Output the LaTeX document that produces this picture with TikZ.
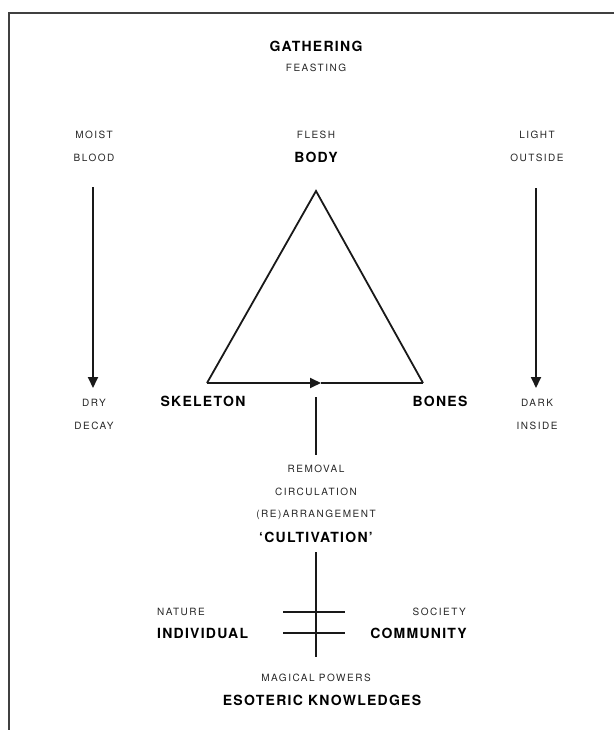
\documentclass[tikz,border=0pt]{standalone}
\usepackage{fontspec}
\setmainfont{TeX Gyre Heros}
\newfontfamily\smallfam[LetterSpace=15]{TeX Gyre Heros}
\newfontfamily\bigfam[LetterSpace=9]{TeX Gyre Heros}
\usetikzlibrary{arrows.meta}
\tikzset{
  small/.style={inner sep=0pt, font=\smallfam\fontsize{10}{12}\selectfont, text=black!85},
  big/.style={inner sep=0pt, font=\bigfam\bfseries\fontsize{14}{16}\selectfont},
  conn/.style={line width=1.8pt, black!90},
  arr/.style={conn, -{Triangle[width=10pt,length=11pt]}},
  frame/.style={line width=2.6pt, black!75},
}
\begin{document}
\begin{tikzpicture}[x=1pt,y=-1pt]
\useasboundingbox (0,0) rectangle (614,730);
% frame
\coordinate (fTR) at (614,13);
\coordinate (fTL) at (9,13);
\coordinate (fBL) at (9,730);
\draw[frame] (fTR) -- (fTL) -- (fBL);

% top
\node[big]   (gathering) at (316,46) {GATHERING};
\node[small] (feasting)  at (316,68) {FEASTING};

% left column
\node[small] (moist) at (94,135) {MOIST};
\node[small] (blood) at (94,158) {BLOOD};
\coordinate (la1) at (93,187);
\coordinate (la2) at (93,388);
\draw[arr] (la1) -- (la2);
\node[small] (dry)   at (94,403) {DRY};
\node[small] (decay) at (94,426) {DECAY};

% right column
\node[small] (light)   at (537,135) {LIGHT};
\node[small] (outside) at (537,158) {OUTSIDE};
\coordinate (ra1) at (536,188);
\coordinate (ra2) at (536,388);
\draw[arr] (ra1) -- (ra2);
\node[small] (dark)   at (537,403) {DARK};
\node[small] (inside) at (537,426) {INSIDE};

% triangle
\node[small] (flesh) at (316,135) {FLESH};
\node[big]   (body)  at (316,157) {BODY};
\coordinate (apex) at (316,191);
\coordinate (bl) at (207,383);
\coordinate (br) at (423,383);
\coordinate (bm) at (321,383);
\draw[conn, line join=miter] (bl) -- (apex) -- (br);
\draw[arr] (bl) -- (bm);
\draw[conn] (bm) -- (br);
\node[big] (skeleton) at (203,401) {SKELETON};
\node[big] (bones)    at (440,401) {BONES};

% middle
\coordinate (v1a) at (316,397);
\coordinate (v1b) at (316,455);
\draw[conn] (v1a) -- (v1b);
\node[small] (removal)     at (316,469) {REMOVAL};
\node[small] (circulation) at (316,492) {CIRCULATION};
\node[small] (rearr)       at (316,515) {(RE)ARRANGEMENT};
\node[big]   (cultivation) at (316,537) {‘CULTIVATION’};

\coordinate (v2a) at (316,552);
\coordinate (v2b) at (316,657);
\draw[conn] (v2a) -- (v2b);
\coordinate (h1a) at (283,612);
\coordinate (h1b) at (345,612);
\coordinate (h2a) at (283,633);
\coordinate (h2b) at (345,633);
\draw[conn] (h1a) -- (h1b);
\draw[conn] (h2a) -- (h2b);

\node[small, anchor=west] (nature)     at (157,612) {NATURE};
\node[big,   anchor=west] (individual) at (157,633) {INDIVIDUAL};
\node[small, anchor=east] (society)    at (466,612) {SOCIETY};
\node[big,   anchor=east] (community)  at (467,633) {COMMUNITY};

\node[small] (magical)  at (316,678) {MAGICAL POWERS};
\node[big]   (esoteric) at (322,700) {ESOTERIC KNOWLEDGES};
\end{tikzpicture}
\end{document}
